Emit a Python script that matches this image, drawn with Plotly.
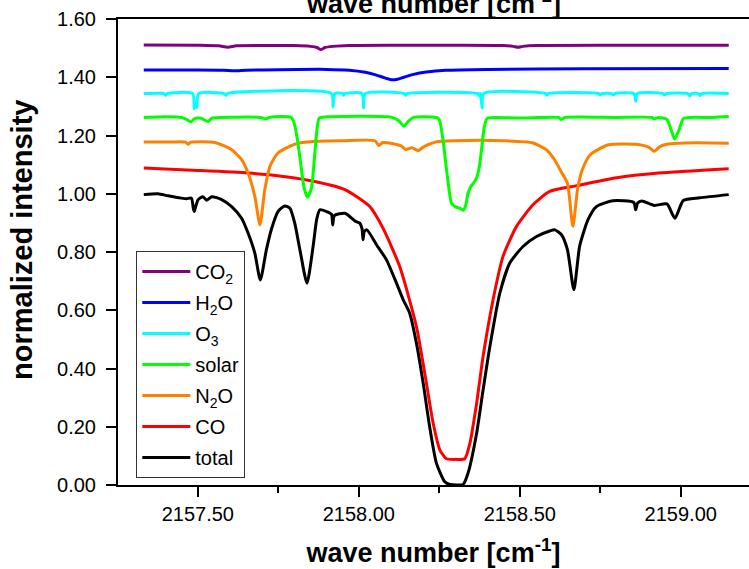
import plotly.graph_objects as go

# ---- data (wave number [cm-1], normalized intensity incl. offsets) ----
co2_x = [2157.332, 2157.50, 2157.565, 2157.593, 2157.62, 2157.70, 2157.80, 2157.85, 2157.87, 2157.882,
         2157.895, 2157.92, 2157.97, 2158.10, 2158.30, 2158.45, 2158.48, 2158.494, 2158.51, 2158.55,
         2158.80, 2159.00, 2159.149]
co2_y = [1.511, 1.510, 1.508, 1.503, 1.508, 1.509, 1.509, 1.506, 1.502, 1.495,
         1.502, 1.506, 1.509, 1.510, 1.510, 1.509, 1.506, 1.503, 1.506, 1.509,
         1.510, 1.510, 1.510]

h2o_x = [2157.332, 2157.50, 2157.58, 2157.613, 2157.65, 2157.75, 2157.90, 2157.97, 2158.02, 2158.05,
         2158.075, 2158.095, 2158.106, 2158.12, 2158.14, 2158.17, 2158.21, 2158.27, 2158.40, 2158.70,
         2159.149]
h2o_y = [1.425, 1.425, 1.424, 1.422, 1.424, 1.426, 1.427, 1.424, 1.417, 1.409,
         1.400, 1.393, 1.391, 1.393, 1.400, 1.410, 1.418, 1.424, 1.427, 1.429,
         1.430]

o3_x = [2157.332, 2157.395, 2157.400, 2157.405, 2157.484, 2157.489, 2157.493, 2157.497, 2157.502,
        2157.582, 2157.587, 2157.592, 2157.915, 2157.920, 2157.925, 2157.95, 2157.953, 2157.956,
        2158.010, 2158.015, 2158.020, 2158.142, 2158.146, 2158.150, 2158.370, 2158.374, 2158.378,
        2158.383, 2158.388, 2158.580, 2158.584, 2158.588, 2158.745, 2158.75, 2158.755, 2158.785,
        2158.79, 2158.795, 2158.855, 2158.860, 2158.865, 2158.945, 2158.95, 2158.955, 2159.022,
        2159.028, 2159.034, 2159.055, 2159.06, 2159.065, 2159.149]
o3_y = [1.344, 1.344, 1.338, 1.344, 1.344, 1.292, 1.310, 1.296, 1.344,
        1.344, 1.338, 1.344, 1.344, 1.298, 1.344, 1.344, 1.338, 1.344,
        1.344, 1.294, 1.344, 1.344, 1.338, 1.344, 1.344, 1.336, 1.344,
        1.294, 1.344, 1.344, 1.338, 1.344, 1.344, 1.339, 1.344, 1.344,
        1.339, 1.344, 1.344, 1.318, 1.344, 1.344, 1.339, 1.344, 1.344,
        1.336, 1.344, 1.344, 1.337, 1.344, 1.344]

solar_x = [2157.332, 2157.40, 2157.45, 2157.465, 2157.478, 2157.49, 2157.51, 2157.531, 2157.545,
           2157.62, 2157.695, 2157.710, 2157.725, 2157.79, 2157.800, 2157.81, 2157.82, 2157.83,
           2157.841, 2157.853, 2157.862, 2157.870, 2157.877, 2157.90, 2158.10, 2158.125, 2158.140,
           2158.155, 2158.17, 2158.24, 2158.250, 2158.262, 2158.275, 2158.288, 2158.30, 2158.315,
           2158.324, 2158.332, 2158.339, 2158.348, 2158.354, 2158.366, 2158.374, 2158.381, 2158.390,
           2158.398, 2158.42, 2158.50, 2158.62, 2158.629, 2158.64, 2158.80, 2158.91, 2158.918,
           2158.93, 2158.957, 2158.970, 2158.981, 2158.995, 2159.008, 2159.03, 2159.10, 2159.149]
solar_y = [1.262, 1.264, 1.262, 1.255, 1.247, 1.258, 1.259, 1.248, 1.260,
           1.263, 1.262, 1.257, 1.263, 1.262, 1.240, 1.180, 1.100, 1.020,
           0.988, 1.020, 1.120, 1.220, 1.260, 1.264, 1.263, 1.250, 1.232,
           1.250, 1.262, 1.262, 1.255, 1.180, 1.060, 0.968, 0.955, 0.950,
           0.943, 0.960, 1.000, 1.025, 1.033, 1.055, 1.090, 1.150, 1.230,
           1.258, 1.262, 1.260, 1.262, 1.255, 1.262, 1.262, 1.262, 1.257,
           1.262, 1.255, 1.220, 1.188, 1.220, 1.258, 1.262, 1.262, 1.265]

n2o_x = [2157.332, 2157.42, 2157.462, 2157.470, 2157.478, 2157.553, 2157.605, 2157.636, 2157.656,
         2157.677, 2157.693, 2157.708, 2157.724, 2157.749, 2157.801, 2157.863, 2157.95, 2158.05,
         2158.062, 2158.075, 2158.13, 2158.146, 2158.165, 2158.185, 2158.20, 2158.24, 2158.30,
         2158.45, 2158.54, 2158.584, 2158.609, 2158.629, 2158.648, 2158.665, 2158.680, 2158.695,
         2158.719, 2158.776, 2158.86, 2158.90, 2158.918, 2158.935, 2158.957, 2159.05, 2159.149]
n2o_y = [1.178, 1.178, 1.177, 1.170, 1.177, 1.176, 1.151, 1.117, 1.071,
         0.991, 0.893, 1.014, 1.094, 1.140, 1.170, 1.180, 1.182, 1.182,
         1.166, 1.176, 1.165, 1.152, 1.158, 1.148, 1.160, 1.178, 1.182,
         1.182, 1.175, 1.150, 1.115, 1.075, 1.036, 0.888, 1.020, 1.085,
         1.134, 1.168, 1.170, 1.160, 1.146, 1.162, 1.170, 1.175, 1.173]

co_x = [2157.332, 2157.50, 2157.656, 2157.76, 2157.863, 2157.957, 2158.034, 2158.075, 2158.127,
        2158.179, 2158.210, 2158.231, 2158.252, 2158.272, 2158.301, 2158.329, 2158.345, 2158.366,
        2158.386, 2158.417, 2158.448, 2158.490, 2158.541, 2158.593, 2158.674, 2158.801, 2158.931,
        2159.149]
co_y = [1.088, 1.080, 1.071, 1.060, 1.042, 1.014, 0.956, 0.882, 0.750,
        0.544, 0.349, 0.212, 0.120, 0.090, 0.088, 0.090, 0.143, 0.281,
        0.441, 0.636, 0.785, 0.888, 0.962, 1.008, 1.027, 1.055, 1.071,
        1.086]

total_x = [2157.332, 2157.376, 2157.407, 2157.449, 2157.465, 2157.480, 2157.486, 2157.489, 2157.493,
           2157.501, 2157.516, 2157.527, 2157.543, 2157.574, 2157.605, 2157.636, 2157.656, 2157.677,
           2157.694, 2157.713, 2157.729, 2157.749, 2157.770, 2157.786, 2157.801, 2157.817, 2157.839,
           2157.858, 2157.869, 2157.879, 2157.900, 2157.915, 2157.919, 2157.924, 2157.957, 2157.990,
           2158.003, 2158.010, 2158.013, 2158.017, 2158.025, 2158.055, 2158.086, 2158.117, 2158.138,
           2158.158, 2158.179, 2158.200, 2158.220, 2158.241, 2158.267, 2158.283, 2158.324, 2158.339,
           2158.366, 2158.386, 2158.407, 2158.438, 2158.469, 2158.510, 2158.552, 2158.593, 2158.609,
           2158.629, 2158.648, 2158.668, 2158.686, 2158.712, 2158.738, 2158.789, 2158.854, 2158.860,
           2158.866, 2158.879, 2158.918, 2158.957, 2158.982, 2159.008, 2159.059, 2159.149]
total_y = [0.997, 1.000, 0.993, 0.985, 0.983, 0.985, 0.950, 0.939, 0.955,
           0.980, 0.990, 0.978, 0.990, 0.980, 0.956, 0.916, 0.865, 0.796,
           0.704, 0.808, 0.880, 0.939, 0.958, 0.950, 0.899, 0.808, 0.693,
           0.819, 0.911, 0.945, 0.939, 0.930, 0.893, 0.925, 0.933, 0.905,
           0.899, 0.880, 0.842, 0.870, 0.876, 0.825, 0.773, 0.693, 0.636,
           0.590, 0.487, 0.349, 0.200, 0.075, 0.011, 0.002, 0.002, 0.040,
           0.178, 0.326, 0.475, 0.659, 0.762, 0.819, 0.853, 0.872, 0.876,
           0.860, 0.808, 0.670, 0.820, 0.911, 0.956, 0.976, 0.970, 0.945,
           0.968, 0.975, 0.960, 0.965, 0.916, 0.977, 0.986, 0.997]

series = [
    # name, x, y, color, legend rank
    ("total", total_x, total_y, "#000000", 7),
    ("CO", co_x, co_y, "#ff0000", 6),
    ("N<sub>2</sub>O", n2o_x, n2o_y, "#ff8000", 5),
    ("solar", solar_x, solar_y, "#00ff00", 4),
    ("O<sub>3</sub>", o3_x, o3_y, "#00ffff", 3),
    ("H<sub>2</sub>O", h2o_x, h2o_y, "#0000ff", 2),
    ("CO<sub>2</sub>", co2_x, co2_y, "#800080", 1),
]

FONT = "Liberation Sans, Arial, sans-serif"

fig = go.Figure()
for name, xs, ys, color, rank in series:
    fig.add_trace(go.Scatter(
        x=xs, y=ys, mode="lines", name=name,
        line=dict(color=color, width=3, shape="spline", smoothing=0.6),
        legendrank=rank, legendgroup=name,
    ))

fig.update_layout(
    width=749, height=569,
    margin=dict(l=118, r=0, t=19, b=84),
    paper_bgcolor="white", plot_bgcolor="white",
    font=dict(family=FONT, size=20, color="black"),
    showlegend=True,
    legend=dict(
        x=0.029, y=0.015, xanchor="left", yanchor="bottom",
        bgcolor="white", bordercolor="#333333", borderwidth=1,
        font=dict(family=FONT, size=20, color="black"),
        tracegroupgap=2, itemwidth=48,
    ),
    xaxis=dict(
        range=[2157.252, 2159.212],
        tick0=2157.5, dtick=0.5, tickformat=".2f",
        ticks="outside", ticklen=10, tickwidth=1.5, tickcolor="black",
        minor=dict(ticks="outside", ticklen=6, tickwidth=1.5, tickcolor="black", dtick=0.25, tick0=2157.25),
        showline=True, linecolor="black", linewidth=2, mirror=True,
        showgrid=False, zeroline=False,
        tickfont=dict(family=FONT, size=20),
        title=dict(text="<b>wave number [cm<sup>-1</sup>]</b>", font=dict(family=FONT, size=27), standoff=19),
    ),
    yaxis=dict(
        range=[0, 1.6], dtick=0.2, tickformat=".2f",
        ticks="outside", ticklen=10, tickwidth=1.5, tickcolor="black",
        ticklabelstandoff=6,
        showline=True, linecolor="black", linewidth=2, mirror=False,
        showgrid=False, zeroline=False,
        tickfont=dict(family=FONT, size=20),
    ),
    annotations=[
        dict(
            text="<b>wave number [cm<sup>-1</sup>]</b>", xref="paper", yref="paper",
            x=0.5, y=1, xanchor="center", yanchor="bottom", yshift=-2, showarrow=False,
            font=dict(family=FONT, size=27, color="black"),
        ),
        dict(
            text="<b>normalized intensity</b>", xref="paper", yref="paper",
            x=-0.152, y=0.526, xanchor="center", yanchor="middle", textangle=-90, showarrow=False,
            font=dict(family=FONT, size=29, color="black"),
        ),
    ],
)

fig.write_html(
    "out.html",
    config={"displayModeBar": False},
    post_script="document.body.style.margin='0';document.body.style.padding='0';",
)
